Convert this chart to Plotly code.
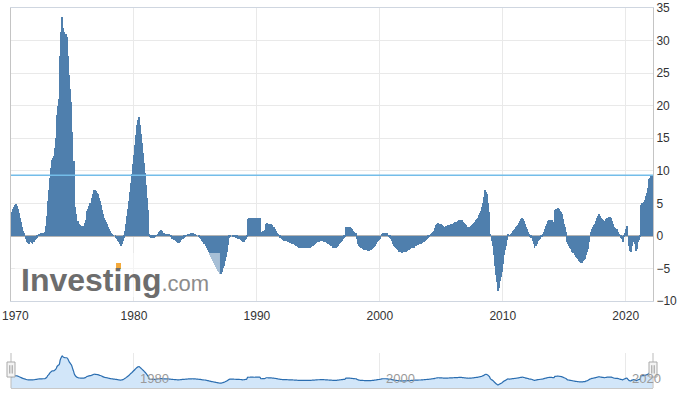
import pandas as pd
import plotly.graph_objects as go

# Monthly YoY % values (Jan 1970 .. Mar 2022)
ppi_1970s = [
    3.3, 3.7, 4.1, 4.5, 4.8, 4.9, 4.6, 4.1, 3.5, 2.8, 2.1, 1.4,
    0.8, 0.4, 0.0, -0.5, -0.9, -1.1, -1.2, -1.0, -1.1, -1.2, -0.9, -0.7,
    -0.5, -0.3, 0.0, 0.2, 0.3, 0.4, 0.4, 0.5, 0.5, 0.6, 1.5, 3.0,
    5.3, 7.0, 8.9, 10.5, 11.7, 12.0, 12.2, 13.5, 15.0, 18.6, 20.0, 21.0,
    27.7, 31.3, 33.6, 32.0, 31.3, 31.0, 31.0, 30.5, 27.7, 24.7, 22.5, 20.6,
    16.0, 11.5, 6.9, 4.5, 3.3, 2.3, 1.8, 1.6, 1.5, 1.5, 1.4, 1.5,
    2.0, 2.5, 3.8, 4.2, 4.6, 5.0, 5.1, 5.8, 6.5, 7.1, 7.0, 6.9,
    6.6, 6.4, 5.8, 5.3, 4.8, 4.0, 3.4, 2.8, 2.4, 2.1, 1.8, 1.4,
    1.0, 0.7, 0.5, 0.3, 0.1, 0.0, -0.3, -0.5, -0.8, -1.0, -1.3, -1.5,
    -1.2, -0.8, -0.3, 0.8, 1.8, 3.0, 4.2, 5.3, 6.8, 8.2, 9.5, 11.0,
]
ppi_1980s = [
    12.5, 14.0, 15.5, 17.0, 17.8, 18.2, 17.0, 15.6, 14.2, 12.8, 11.2, 9.7,
    7.8, 5.8, 4.0, 0.3, -0.2, -0.3, -0.3, -0.3, -0.3, -0.2, 0.1, 0.3,
    0.6, 0.8, 0.9, 0.7, 0.5, 0.4, 0.3, 0.2, 0.2, 0.2, 0.2, 0.0,
    -0.2, -0.4, -0.5, -0.6, -0.7, -0.8, -0.9, -1.1, -1.1, -0.9, -0.7, -0.5,
    -0.4, -0.3, -0.2, 0.0, 0.1, 0.2, 0.2, 0.3, 0.4, 0.5, 0.4, 0.3,
    0.2, 0.1, 0.0, -0.2, -0.3, -0.5, -0.8, -1.0, -1.2, -1.3, -1.5, -1.9,
    -2.2, -2.5, -2.9, -3.3, -3.6, -3.8, -4.2, -4.5, -4.8, -5.1, -5.4, -5.6,
    -5.8, -5.9, -5.5, -5.0, -4.6, -3.9, -3.2, -2.5, -1.4, -0.3, -0.1, 0.0,
    0.0, -0.1, -0.2, -0.2, -0.3, -0.3, -0.4, -0.5, -0.6, -0.8, -1.0, -0.9,
    -0.7, -0.4, -0.2, 2.6, 2.7, 2.7, 2.8, 2.8, 2.8, 2.7, 2.7, 2.8,
]
ppi_1990s = [
    2.8, 2.8, 2.8, 2.8, 0.6, 0.6, 0.7, 0.8, 0.9, 1.9, 2.0, 1.9,
    1.9, 1.8, 1.8, 1.6, 1.4, 1.3, 1.0, 0.8, 0.5, 0.2, 0.0, -0.3,
    -0.5, -0.7, -0.75, -0.8, -0.75, -0.8, -0.9, -1.0, -1.1, -1.1, -1.2, -1.2,
    -1.3, -1.4, -1.5, -1.6, -1.7, -1.8, -1.8, -1.9, -1.9, -1.9, -1.9, -1.9,
    -1.9, -1.9, -1.9, -1.8, -1.8, -1.7, -1.6, -1.5, -1.4, -1.3, -1.1, -1.0,
    -0.9, -0.9, -0.8, -0.75, -0.75, -0.8, -0.9, -1.0, -1.1, -1.2, -1.3, -1.4,
    -1.5, -1.6, -1.8, -1.8, -1.8, -1.8, -1.7, -1.5, -1.3, -1.1, -0.9, -0.75,
    -0.5, -0.3, -0.1, 1.4, 1.4, 1.4, 1.4, 1.3, 1.2, 1.0, 0.8, 0.6,
    0.5, 0.4, -0.5, -1.2, -1.5, -1.7, -1.9, -1.9, -2.0, -2.1, -2.1, -2.2,
    -2.3, -2.3, -2.3, -2.2, -2.0, -1.9, -1.7, -1.5, -1.3, -1.0, -0.8, -0.6,
]
ppi_2000s = [
    -0.4, 0.0, 0.3, 0.5, 0.5, 0.5, 0.5, 0.4, 0.1, -0.1, -0.3, -0.5,
    -0.8, -1.2, -1.5, -1.7, -1.8, -2.0, -2.2, -2.4, -2.5, -2.5, -2.6, -2.5,
    -2.5, -2.4, -2.4, -2.3, -2.2, -2.1, -2.0, -1.9, -1.9, -1.8, -1.6, -1.5,
    -1.4, -1.4, -1.3, -1.3, -1.3, -1.1, -1.0, -0.9, -0.8, -0.6, -0.5, -0.3,
    -0.2, 0.0, 0.2, 0.4, 0.6, 0.75, 1.2, 1.6, 1.9, 2.0, 1.9, 1.8,
    1.8, 1.7, 1.5, 1.4, 1.4, 1.5, 1.5, 1.6, 1.7, 1.8, 1.8, 1.9,
    2.0, 2.1, 2.2, 2.2, 2.3, 2.4, 2.5, 2.5, 2.4, 2.2, 2.0, 1.8,
    1.6, 1.4, 1.3, 1.3, 1.4, 1.5, 1.6, 1.8, 2.0, 2.2, 2.5, 2.6,
    2.8, 3.2, 3.5, 3.8, 4.5, 5.1, 6.0, 7.0, 6.8, 6.4, 5.0, 3.6,
    0.25, -0.8, -1.5, -3.0, -4.6, -6.0, -7.1, -8.4, -8.0, -7.0, -6.3, -5.6,
]
ppi_2010s = [
    -4.3, -3.0, -2.2, -1.5, -0.6, 0.25, 0.1, 0.0, 0.3, 0.5, 0.75, 0.9,
    1.1, 1.3, 1.5, 1.7, 2.0, 2.3, 2.6, 2.8, 2.6, 2.3, 1.8, 1.4,
    1.0, 0.6, 0.2, -0.1, -0.25, -0.8, -1.3, -1.8, -1.5, -1.2, -0.8, -0.6,
    -0.4, -0.2, -0.1, 0.2, 0.6, 1.0, 1.5, 1.9, 2.3, 2.4, 2.5, 2.5,
    2.4, 2.2, 2.0, 4.0, 4.1, 4.2, 4.3, 4.2, 3.9, 3.6, 3.3, 2.6,
    1.9, 1.3, 0.6, -1.0, -1.3, -1.6, -1.8, -2.0, -2.4, -2.7, -3.0, -3.2,
    -3.4, -3.6, -3.8, -4.0, -4.1, -4.1, -3.9, -3.7, -3.6, -3.0, -2.5, -2.0,
    -1.0, 0.0, 0.6, 1.0, 1.3, 1.6, 1.9, 2.3, 2.7, 3.1, 3.4, 3.1,
    2.8, 2.6, 2.5, 2.0, 2.3, 2.6, 2.8, 2.8, 2.9, 2.9, 2.8, 2.3,
    1.8, 1.3, 1.2, 1.1, 1.0, 0.6, 0.2, -0.3, -0.5, -1.0, -0.2, 0.4,
]
ppi_2020s = [
    1.0, 1.5, 0.0, -1.5, -2.3, -2.5, -1.5, -1.0, -0.8, -1.2, -2.3, -2.0,
    -1.0, -0.6, -0.2, 4.8, 5.0, 5.1, 5.2, 5.5, 6.1, 6.6, 7.4, 8.7,
    8.9, 9.2, 9.3,
]

values = ppi_1970s + ppi_1980s + ppi_1990s + ppi_2000s + ppi_2010s + ppi_2020s
dates = pd.date_range("1970-01-01", periods=len(values), freq="MS")

first_tick = 1970
main_ticks = [1980, 1990, 2000, 2010, 2020]
nav_ticks = [1980, 2000, 2020]
y_ticks = [-10, -5, 0, 5, 10, 15, 20, 25, 30, 35]

X_RANGE = ["1969-12-31", "2022-03-22"]
NAV_FLOOR, NAV_TOP = -12.9, 37.9
FONT = "Liberation Sans, Arial, sans-serif"

fig = go.Figure()

fig.add_trace(go.Bar(
    x=dates, y=values, marker=dict(color="#4f7fad", line=dict(width=0)),
    xaxis="x", yaxis="y", showlegend=False, hoverinfo="x+y",
))

# navigator: baseline + smoothed area
fig.add_trace(go.Scatter(
    x=dates, y=[NAV_FLOOR] * len(values), mode="lines",
    line=dict(width=0, color="rgba(0,0,0,0)"), xaxis="x2", yaxis="y2",
    showlegend=False, hoverinfo="skip",
))
fig.add_trace(go.Scatter(
    x=dates, y=values, mode="lines", line=dict(color="#2a6db0", width=1.2, shape="spline", smoothing=1.0),
    fill="tonexty", fillcolor="#d2e6f9", xaxis="x2", yaxis="y2",
    showlegend=False, hoverinfo="skip",
))

grid = "#e9e9e9"
fig.update_layout(
    width=698, height=398, autosize=False,
    margin=dict(l=11, r=45, t=8, b=10),
    paper_bgcolor="white", plot_bgcolor="white",
    font=dict(family=FONT, size=12, color="#333333"),
    bargap=0,
    xaxis=dict(
        domain=[0, 1], anchor="y", type="date", range=X_RANGE, automargin=False,
        tickvals=[f"{y}-01-01" for y in main_ticks], ticktext=[str(y) for y in main_ticks],
        ticklabelstandoff=4,
        showgrid=True, gridcolor=grid, gridwidth=1,
        showline=True, linecolor="#cfd6e0", linewidth=1, mirror=True,
        ticks="", tickfont=dict(size=12, color="#333333"), zeroline=False,
    ),
    yaxis=dict(
        domain=[0.2289, 1], anchor="x", side="right", range=[-10, 35], automargin=False,
        tickvals=y_ticks, showgrid=True, gridcolor=grid, gridwidth=1,
        ticklabeloverflow="allow",
        zeroline=True, zerolinecolor="#b4b4b4", zerolinewidth=2,
        showline=True, linecolor="#c4c4c4", linewidth=1, mirror=True,
        ticks="", tickfont=dict(size=12, color="#333333"),
    ),
    xaxis2=dict(
        domain=[0, 1], anchor="y2", type="date", range=X_RANGE, automargin=False,
        tickvals=[f"{y}-01-01" for y in nav_ticks],
        showticklabels=False,
        showgrid=True, gridcolor=grid, gridwidth=1,
        showline=True, linecolor="#c8c8c8", linewidth=1,
        ticks="", zeroline=False,
    ),
    yaxis2=dict(
        domain=[0, 0.0921], anchor="x2", range=[NAV_FLOOR, NAV_TOP], automargin=False,
        showgrid=False, zeroline=False, showticklabels=False, showline=False, ticks="",
    ),
)

# first x label at the left edge of the chart
fig.add_annotation(xref="paper", yref="paper", x=-11 / 642, y=0.19, xanchor="left", yanchor="middle",
                   text=str(first_tick), showarrow=False, font=dict(family=FONT, size=12, color="#333333"))

# navigator tick labels (placed right of their grid lines, inside the navigator)
for yr in nav_ticks:
    fig.add_annotation(xref="x2", yref="paper", x=f"{yr}-01-01", y=0.026, xanchor="left", yanchor="middle",
                       xshift=4, text=str(yr), showarrow=False,
                       font=dict(family=FONT, size=13, color="#9a9a9a"))

# last-value reference line
fig.add_shape(type="line", xref="paper", x0=0, x1=1, yref="y",
              y0=values[-1], y1=values[-1], line=dict(color="#74bde9", width=1.5), layer="above")

# watermark veil + logo text
fig.add_shape(type="rect", xref="paper", yref="paper", x0=0.006, x1=0.3255, y0=0.2395, y1=0.355,
              fillcolor="white", opacity=0.5, line=dict(width=0), layer="above")
fig.add_annotation(
    xref="paper", yref="paper", x=0.012, y=0.2845, xanchor="left", yanchor="middle",
    text="<b>Investing</b><span style='font-size:22px;color:#8c8c8c'>.com</span>",
    showarrow=False, font=dict(family=FONT, size=32, color="#6d6d6d"),
)
fig.add_shape(type="rect", xref="paper", yref="paper", x0=0.1636, x1=0.1713, y0=0.313, y1=0.329,
              fillcolor="#f4a93a", line=dict(width=0), layer="above")

# navigator outline and handles
for xp in (0, 1):
    fig.add_shape(type="line", xref="paper", yref="paper", x0=xp, x1=xp, y0=0, y1=0.0921,
                  line=dict(color="#bbbbbb", width=1))
    fig.add_shape(type="rect", xref="paper", yref="paper", x0=xp - 4 / 642, x1=xp + 4 / 642,
                  y0=0.0289, y1=0.0684, fillcolor="#f4f4f4", line=dict(color="#aaaaaa", width=1))
    for dx in (-1.2 / 642, 1.2 / 642):
        fig.add_shape(type="line", xref="paper", yref="paper", x0=xp + dx, x1=xp + dx,
                      y0=0.038, y1=0.060, line=dict(color="#999999", width=1))

fig.write_html("out.html", config={"displayModeBar": False},
               post_script="document.body.style.margin='0';document.body.style.padding='0';")
